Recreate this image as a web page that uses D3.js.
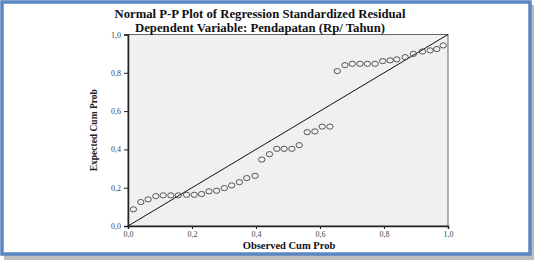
<!DOCTYPE html>
<html>
<head>
<meta charset="utf-8">
<script src="https://cdn.jsdelivr.net/npm/d3@7"></script>
<style>
  html, body { margin: 0; padding: 0; background: #fff; }
  svg { display: block; }
  .axis text { font-family: "Liberation Serif", serif; font-size: 8px; fill: #444; }
  .axis path, .axis line { stroke: #222; }
</style>
</head>
<body>
<div id="chart"></div>
<script>
// Observed vs expected cumulative probabilities
const observed = [0.017, 0.040, 0.063, 0.087, 0.110, 0.134, 0.157, 0.183, 0.207, 0.230,
  0.253, 0.277, 0.301, 0.324, 0.348, 0.371, 0.397, 0.418, 0.442, 0.465,
  0.488, 0.512, 0.535, 0.560, 0.584, 0.607, 0.631, 0.654, 0.678, 0.701,
  0.725, 0.748, 0.772, 0.796, 0.819, 0.840, 0.866, 0.892, 0.920, 0.944,
  0.965, 0.985];
const expected = [0.087, 0.125, 0.139, 0.156, 0.160, 0.160, 0.160, 0.163, 0.163, 0.167,
  0.181, 0.184, 0.198, 0.212, 0.229, 0.250, 0.262, 0.347, 0.375, 0.403,
  0.403, 0.403, 0.422, 0.490, 0.494, 0.519, 0.519, 0.809, 0.840, 0.847,
  0.847, 0.847, 0.847, 0.861, 0.865, 0.870, 0.882, 0.899, 0.911, 0.917,
  0.924, 0.943];
const tickValues = [0, 0.2, 0.4, 0.6, 0.8, 1.0];
const title = "Normal P-P Plot of Regression Standardized Residual";
const subtitle = "Dependent Variable: Pendapatan (Rp/ Tahun)";
const xLabel = "Observed Cum Prob";
const yLabel = "Expected Cum Prob";

const width = 535, height = 261;
const margins = { top: 34.5, right: 87, bottom: 35, left: 128 };
const innerWidth = width - margins.left - margins.right;
const innerHeight = height - margins.top - margins.bottom;

const svg = d3.select('#chart').append('svg')
  .attr('width', width)
  .attr('height', height);

// drop shadow + blue frame
svg.append('rect')
  .attr('x', 4).attr('y', 5).attr('width', 530).attr('height', 255)
  .attr('fill', '#bdbdbd');
svg.append('rect')
  .attr('x', 2).attr('y', 2).attr('width', 528).attr('height', 252)
  .attr('fill', '#fff')
  .attr('stroke', '#5b87c2')
  .attr('stroke-width', 3.5);

const fmt = d => d3.format('.1f')(d).replace('.', ',');

const xScale = d3.scaleLinear().domain([0, 1]).range([0, innerWidth]);
const yScale = d3.scaleLinear().domain([0, 1]).range([innerHeight, 0]);

const g = svg.append('g')
  .attr('transform', `translate(${margins.left}, ${margins.top})`);

g.append('rect')
  .attr('width', innerWidth)
  .attr('height', innerHeight)
  .attr('fill', '#f0f0f0')
  .attr('stroke', '#666')
  .attr('stroke-width', 1);

g.append('g')
  .attr('class', 'axis')
  .call(d3.axisLeft(yScale).tickValues(tickValues).tickFormat(fmt).tickSize(4).tickPadding(3))
  .call(a => a.select('.domain').attr('stroke-width', 1.5));

g.append('g')
  .attr('class', 'axis')
  .attr('transform', `translate(0,${innerHeight})`)
  .call(d3.axisBottom(xScale).tickValues(tickValues).tickFormat(fmt).tickSize(3).tickPadding(2))
  .call(a => a.select('.domain').attr('stroke-width', 1.5));

// reference diagonal
g.append('line')
  .attr('x1', xScale(0)).attr('y1', yScale(0))
  .attr('x2', xScale(1)).attr('y2', yScale(1))
  .attr('stroke', '#111')
  .attr('stroke-width', 1);

const points = observed.map((d, i) => ({ x: d, y: expected[i] }));

g.selectAll('.pt')
  .data(points)
  .enter().append('ellipse')
  .attr('class', 'pt')
  .attr('cx', d => xScale(d.x))
  .attr('cy', d => yScale(d.y))
  .attr('rx', 3.2)
  .attr('ry', 2.6)
  .attr('fill', 'none')
  .attr('stroke', '#444')
  .attr('stroke-width', 0.9);

// titles
svg.append('text')
  .attr('x', 260).attr('y', 18)
  .attr('text-anchor', 'middle')
  .style('font-family', '"Liberation Serif", serif')
  .style('font-weight', 'bold')
  .style('font-size', '11.5px')
  .attr('textLength', 291)
  .attr('lengthAdjust', 'spacingAndGlyphs')
  .attr('fill', '#111')
  .text(title);

svg.append('text')
  .attr('x', 260).attr('y', 32)
  .attr('text-anchor', 'middle')
  .style('font-family', '"Liberation Serif", serif')
  .style('font-weight', 'bold')
  .style('font-size', '11.5px')
  .attr('textLength', 250)
  .attr('lengthAdjust', 'spacingAndGlyphs')
  .attr('fill', '#111')
  .text(subtitle);

svg.append('text')
  .attr('x', 289).attr('y', 249)
  .attr('text-anchor', 'middle')
  .style('font-family', '"Liberation Serif", serif')
  .style('font-weight', 'bold')
  .style('font-size', '10.5px')
  .attr('fill', '#111')
  .text(xLabel);

svg.append('text')
  .attr('transform', `translate(97, ${margins.top + innerHeight / 2}) rotate(-90)`)
  .attr('text-anchor', 'middle')
  .style('font-family', '"Liberation Serif", serif')
  .style('font-weight', 'bold')
  .style('font-size', '9.5px')
  .attr('textLength', 82)
  .attr('lengthAdjust', 'spacingAndGlyphs')
  .attr('fill', '#222')
  .text(yLabel);
</script>
</body>
</html>
